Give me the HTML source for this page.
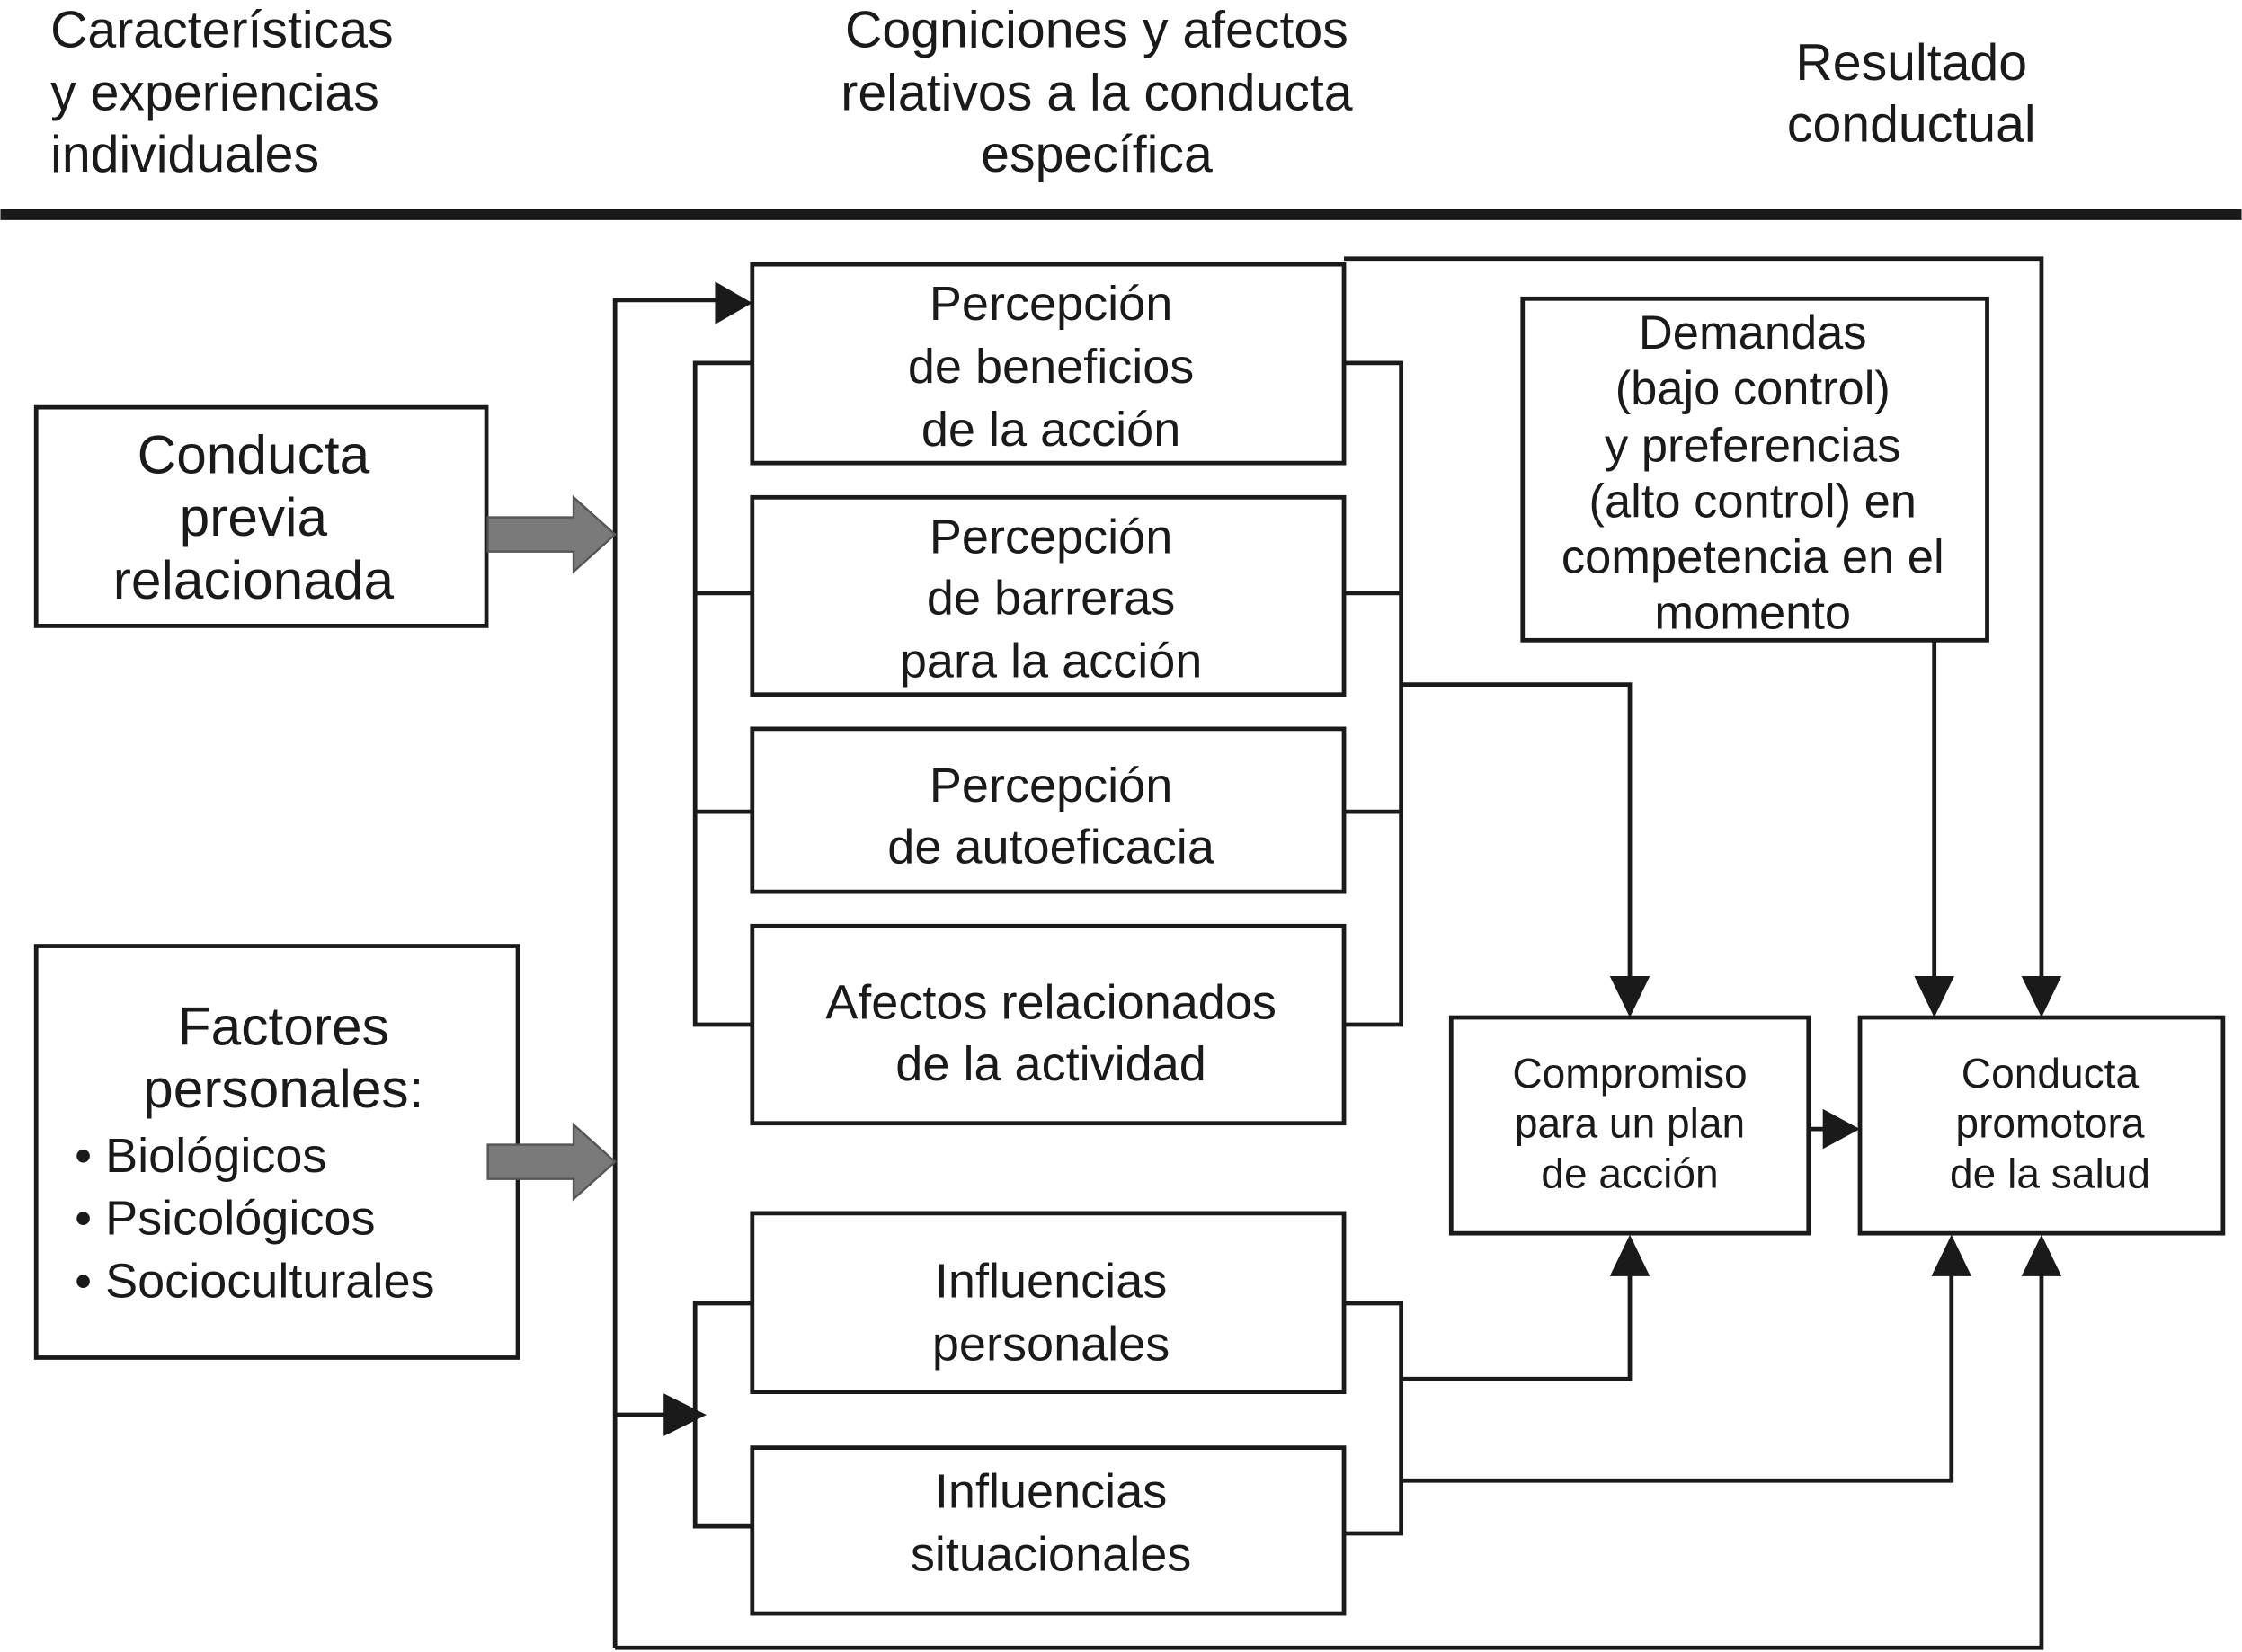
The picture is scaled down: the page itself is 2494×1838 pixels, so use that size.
<!DOCTYPE html>
<html><head><meta charset="utf-8"><style>
html,body{margin:0;padding:0;background:#fff;}
svg{display:block;}
text{font-family:"Liberation Sans",Arial,sans-serif;fill:#1a1a1a;}
</style></head><body>
<svg width="2494" height="1838" viewBox="0 0 1568 1156" xmlns="http://www.w3.org/2000/svg">
<defs>
<marker id="ah" markerWidth="10" markerHeight="10" refX="9" refY="5" orient="auto" markerUnits="userSpaceOnUse" viewBox="0 0 10 10">
</marker>
</defs>
<!-- header -->
<g font-size="36">
<text x="35" y="33">Características</text>
<text x="35" y="77">y experiencias</text>
<text x="35" y="120">individuales</text>
<text x="767" y="33" text-anchor="middle">Cogniciones y afectos</text>
<text x="767" y="77" text-anchor="middle">relativos a la conducta</text>
<text x="767" y="120" text-anchor="middle">específica</text>
<text x="1337" y="56" text-anchor="middle">Resultado</text>
<text x="1337" y="99" text-anchor="middle">conductual</text>
</g>
<rect x="0" y="146" width="1568" height="8" fill="#1a1a1a"/>

<g fill="none" stroke="#1a1a1a" stroke-width="3">
<rect x="25" y="285" width="315" height="153"/>
<rect x="25" y="662" width="337" height="288"/>
<rect x="526" y="185" width="414" height="139"/>
<rect x="526" y="348" width="414" height="138"/>
<rect x="526" y="510" width="414" height="114"/>
<rect x="526" y="648" width="414" height="138"/>
<rect x="526" y="849" width="414" height="125"/>
<rect x="526" y="1013" width="414" height="116"/>
<rect x="1065" y="209" width="325" height="239"/>
<rect x="1015" y="712" width="250" height="151"/>
<rect x="1301" y="712" width="254" height="151"/>
<!-- connectors -->
<polyline points="430,1153 430,210 510,210"/>
<polyline points="526,254 486,254 486,717 526,717"/>
<line x1="486" y1="415" x2="526" y2="415"/>
<line x1="486" y1="568" x2="526" y2="568"/>
<polyline points="940,254 980,254 980,717 940,717"/>
<line x1="940" y1="415" x2="980" y2="415"/>
<line x1="940" y1="568" x2="980" y2="568"/>
<polyline points="980,479 1140,479 1140,690"/>
<polyline points="526,912 486,912 486,1068 526,1068"/>
<line x1="430" y1="990" x2="470" y2="990"/>
<polyline points="940,912 980,912 980,1073 940,1073"/>
<polyline points="980,965 1140,965 1140,885"/>
<polyline points="980,1036 1365,1036 1365,885"/>
<polyline points="430,1153 1428,1153 1428,885"/>
<polyline points="940,181 1428,181 1428,690"/>
<line x1="1353" y1="448" x2="1353" y2="690"/>
<line x1="1265" y1="790" x2="1282" y2="790"/>
</g>
<!-- arrowheads -->
<g fill="#1a1a1a">
<polygon points="500,197 526,212 500,227"/>
<polygon points="464,975 494,990 464,1005"/>
<polygon points="1126,683 1154,683 1140,712"/>
<polygon points="1339,683 1367,683 1353,712"/>
<polygon points="1414,683 1442,683 1428,712"/>
<polygon points="1126,893 1154,893 1140,864"/>
<polygon points="1351,893 1379,893 1365,864"/>
<polygon points="1414,893 1442,893 1428,864"/>
<polygon points="1275,776 1301,790 1275,804"/>
</g>
<!-- gray arrows -->
<g fill="#7a7a7a" stroke="#555" stroke-width="1.5">
<polygon points="341,362 401,362 401,348 430,374 401,400 401,386 341,386"/>
<polygon points="341,801 401,801 401,787 430,813 401,839 401,825 341,825"/>
</g>
<!-- box texts -->
<g font-size="38" text-anchor="middle">
<text x="177" y="331">Conducta</text>
<text x="177" y="375">previa</text>
<text x="177" y="419">relacionada</text>
<text x="198" y="731">Factores</text>
<text x="198" y="775">personales:</text>
</g>
<g font-size="34">
<text x="52" y="820">• Biológicos</text>
<text x="52" y="864">• Psicológicos</text>
<text x="52" y="908">• Socioculturales</text>
</g>
<g font-size="34" text-anchor="middle">
<text x="735" y="224">Percepción</text>
<text x="735" y="268">de beneficios</text>
<text x="735" y="312">de la acción</text>
<text x="735" y="387">Percepción</text>
<text x="735" y="430">de barreras</text>
<text x="735" y="474">para la acción</text>
<text x="735" y="561">Percepción</text>
<text x="735" y="604">de autoeficacia</text>
<text x="735" y="713">Afectos relacionados</text>
<text x="735" y="756">de la actividad</text>
<text x="735" y="908">Influencias</text>
<text x="735" y="952">personales</text>
<text x="735" y="1055">Influencias</text>
<text x="735" y="1099">situacionales</text>
</g>
<g font-size="33" text-anchor="middle">
<text x="1226" y="244">Demandas</text>
<text x="1226" y="283">(bajo control)</text>
<text x="1226" y="323">y preferencias</text>
<text x="1226" y="362">(alto control) en</text>
<text x="1226" y="401">competencia en el</text>
<text x="1226" y="440">momento</text>
</g>
<g font-size="29" text-anchor="middle">
<text x="1140" y="761">Compromiso</text>
<text x="1140" y="796">para un plan</text>
<text x="1140" y="831">de acción</text>
<text x="1434" y="761">Conducta</text>
<text x="1434" y="796">promotora</text>
<text x="1434" y="831">de la salud</text>
</g>
</svg>
</body></html>
